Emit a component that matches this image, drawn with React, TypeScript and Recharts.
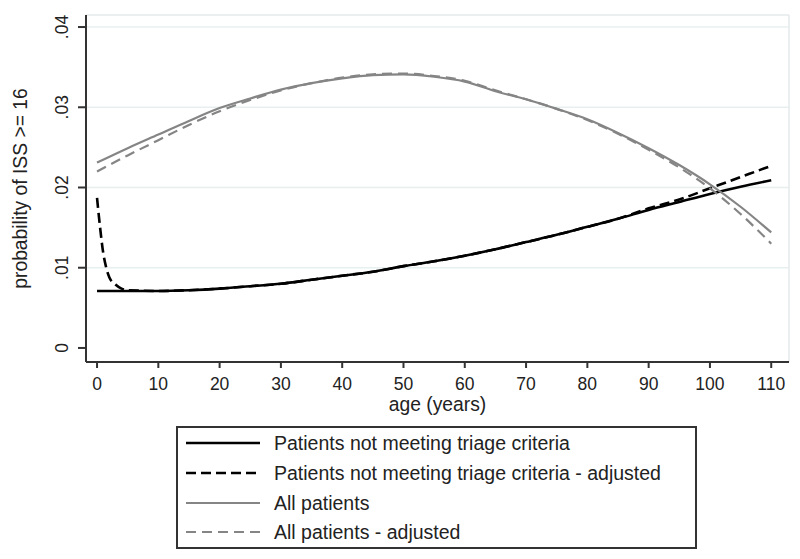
import { LineChart, Line, XAxis, YAxis, ReferenceLine, Legend } from 'recharts';

// ages (years) and estimated probabilities of ISS >= 16
const ages = [0, 5, 10, 15, 20, 25, 30, 35, 40, 45, 50, 55, 60, 65, 70, 75, 80, 85, 90, 95, 100, 105, 110];
const notMeeting = [0.0071, 0.0071, 0.0071, 0.0072, 0.0074, 0.0077, 0.008, 0.0085, 0.009, 0.0095, 0.0102, 0.0108, 0.0115, 0.0123, 0.0132, 0.0141, 0.0151, 0.0161, 0.0172, 0.0182, 0.0192, 0.0201, 0.0209];

const adjAges = [0, 0.5, 1, 1.5, 2, 3, 4, 5, 10, 15, 20, 25, 30, 35, 40, 45, 50, 55, 60, 65, 70, 75, 80, 85, 90, 95, 100, 105, 110];
const notMeetingAdj = [0.0187, 0.015, 0.0119, 0.01, 0.0088, 0.0079, 0.0074, 0.0072, 0.0071, 0.0072, 0.0074, 0.0077, 0.008, 0.0085, 0.009, 0.0095, 0.0102, 0.0108, 0.0115, 0.0123, 0.0132, 0.0141, 0.0151, 0.0161, 0.0174, 0.0185, 0.0199, 0.0213, 0.0227];

const allPatients = [0.0231, 0.0249, 0.0266, 0.0283, 0.0299, 0.0311, 0.0322, 0.033, 0.0336, 0.034, 0.0341, 0.0338, 0.0332, 0.032, 0.031, 0.0298, 0.0285, 0.0268, 0.0249, 0.0228, 0.0204, 0.0176, 0.0144];
const allPatientsAdj = [0.022, 0.024, 0.0259, 0.0278, 0.0295, 0.0309, 0.0321, 0.033, 0.0337, 0.0341, 0.0342, 0.0339, 0.0333, 0.0321, 0.031, 0.0298, 0.0284, 0.0267, 0.0247, 0.0225, 0.0199, 0.0167, 0.013];

const xTicks = [0, 10, 20, 30, 40, 50, 60, 70, 80, 90, 100, 110];
const yTicks = [0, 0.01, 0.02, 0.03, 0.04];
const yTickLabels = ['0', '.01', '.02', '.03', '.04'];
const gridValues = [0.01, 0.02, 0.03, 0.04];

const xMin = -1.8;
const xMax = 112.9;
const yMin = -0.00175;
const yMax = 0.0415;

const seriesNames = [
  'Patients not meeting triage criteria',
  'Patients not meeting triage criteria - adjusted',
  'All patients',
  'All patients - adjusted',
];

const FONT = '"Liberation Sans", Arial, sans-serif';
const BLACK = '#000';
const GREY = '#858585';

const toRows = (xs: number[], ys: number[]) => xs.map((age, i) => ({ age, v: ys[i] }));

const styles = [
  { stroke: BLACK, width: 2.6, dash: undefined as string | undefined },
  { stroke: BLACK, width: 2.6, dash: '10 5' },
  { stroke: GREY, width: 2.2, dash: undefined as string | undefined },
  { stroke: GREY, width: 2.2, dash: '10 6' },
];

function YTick({ y, payload, index }: any) {
  const bx = 68;
  return (
    <text x={bx} y={y} transform={`rotate(-90, ${bx}, ${y})`} textAnchor="middle" fontSize={17.5} fontFamily={FONT} fill="#222">
      {yTickLabels[index] ?? String(payload.value)}
    </text>
  );
}

function YTitle({ viewBox }: any) {
  const cy = viewBox ? viewBox.y + viewBox.height / 2 : 188;
  const bx = 27;
  return (
    <text x={bx} y={cy} transform={`rotate(-90, ${bx}, ${cy})`} textAnchor="middle" fontSize={19.3} fontFamily={FONT} fill="#222">
      probability of ISS &gt;= 16
    </text>
  );
}

function XTitle({ viewBox }: any) {
  const cx = viewBox ? viewBox.x + viewBox.width / 2 : 437;
  return (
    <text x={cx} y={411} textAnchor="middle" fontSize={19.3} fontFamily={FONT} fill="#222">
      age (years)
    </text>
  );
}

function LegendBox() {
  const centers = [17, 47, 77, 106];
  return (
    <div
      style={{
        boxSizing: 'border-box',
        width: 521,
        height: 123,
        border: '2px solid #333',
        background: '#fff',
        position: 'relative',
        fontFamily: FONT,
        fontSize: 19.5,
        color: '#222',
      }}
    >
      {seriesNames.map((name, i) => (
        <div
          key={name}
          style={{ position: 'absolute', left: 8, top: centers[i] - 2 - 13, height: 26, display: 'flex', alignItems: 'center', whiteSpace: 'nowrap' }}
        >
          <svg width={74} height={10} style={{ display: 'block' }}>
            <line x1={0} y1={5} x2={74} y2={5} stroke={styles[i].stroke} strokeWidth={styles[i].width} strokeDasharray={styles[i].dash} />
          </svg>
          <span style={{ marginLeft: 14 }}>{name}</span>
        </div>
      ))}
    </div>
  );
}

export default function App() {
  const series = [
    toRows(ages, notMeeting),
    toRows(adjAges, notMeetingAdj),
    toRows(ages, allPatients),
    toRows(ages, allPatientsAdj),
  ];
  return (
    <div style={{ position: 'absolute', left: 0, top: 0, width: 800, height: 559, background: '#fff' }}>
      <LineChart width={800} height={559} margin={{ top: 15, right: 11, left: 0, bottom: 147 }}>
        {gridValues.map((g) => (
          <ReferenceLine key={g} y={g} stroke="#e8efef" strokeWidth={1.5} />
        ))}
        <ReferenceLine y={yMax} stroke="#e6eaea" strokeWidth={1.5} />
        <ReferenceLine x={xMax} stroke="#e6eaea" strokeWidth={1.5} />
        <XAxis
          dataKey="age"
          type="number"
          domain={[xMin, xMax]}
          ticks={xTicks}
          allowDataOverflow
          height={50}
          tickSize={6}
          tickMargin={10}
          axisLine={{ stroke: '#333', strokeWidth: 2 }}
          tickLine={{ stroke: '#333', strokeWidth: 2 }}
          tick={{ fontSize: 17.5, fontFamily: FONT, fill: '#222' }}
          label={<XTitle />}
        />
        <YAxis
          type="number"
          domain={[yMin, yMax]}
          ticks={yTicks}
          allowDataOverflow
          width={86}
          tickSize={8}
          axisLine={{ stroke: '#333', strokeWidth: 2 }}
          tickLine={{ stroke: '#333', strokeWidth: 2 }}
          tick={<YTick />}
          label={<YTitle />}
        />
        {series.map((rows, i) => (
          <Line
            key={seriesNames[i]}
            data={rows}
            dataKey="v"
            name={seriesNames[i]}
            type="monotone"
            stroke={styles[i].stroke}
            strokeWidth={styles[i].width}
            strokeDasharray={styles[i].dash}
            dot={false}
            activeDot={false}
            isAnimationActive={false}
          />
        ))}
        <Legend
          layout="vertical"
          align="center"
          verticalAlign="middle"
          content={() => <LegendBox />}
          wrapperStyle={{ left: 176, top: 426, width: 521, height: 123 }}
        />
      </LineChart>
    </div>
  );
}
